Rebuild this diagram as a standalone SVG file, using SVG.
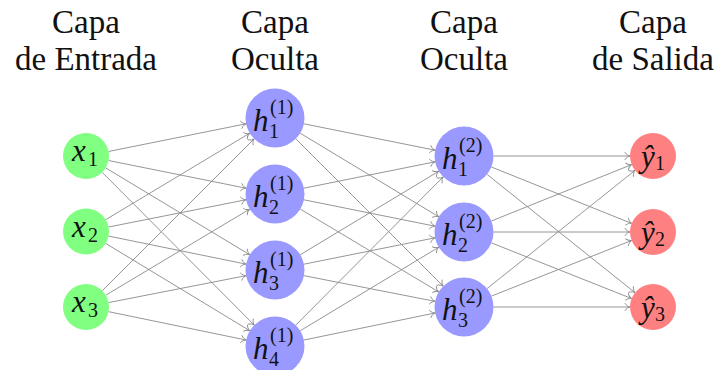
<svg xmlns="http://www.w3.org/2000/svg" width="718" height="370" viewBox="0 0 718 370">
<defs>
<marker id="arr" viewBox="-7 -6 12 12" markerWidth="12" markerHeight="12" refX="0" refY="0" orient="auto" markerUnits="userSpaceOnUse" overflow="visible">
<path d="M -5,-3.6 C -3.6,-1.2 -1.2,-0.3 0,0 C -1.2,0.3 -3.6,1.2 -5,3.6" fill="none" stroke="#8a8a8a" stroke-width="0.9" stroke-linecap="round"/>
</marker>
</defs>
<rect width="718" height="370" fill="#fff"/>
<text font-family="Liberation Serif" font-size="33" fill="#111" text-anchor="middle" x="86" y="33">Capa</text>
<text font-family="Liberation Serif" font-size="33" fill="#111" text-anchor="middle" x="86" y="70">de Entrada</text>
<text font-family="Liberation Serif" font-size="33" fill="#111" text-anchor="middle" x="275" y="33">Capa</text>
<text font-family="Liberation Serif" font-size="33" fill="#111" text-anchor="middle" x="275" y="70">Oculta</text>
<text font-family="Liberation Serif" font-size="33" fill="#111" text-anchor="middle" x="464" y="33">Capa</text>
<text font-family="Liberation Serif" font-size="33" fill="#111" text-anchor="middle" x="464" y="70">Oculta</text>
<text font-family="Liberation Serif" font-size="33" fill="#111" text-anchor="middle" x="653" y="33">Capa</text>
<text font-family="Liberation Serif" font-size="33" fill="#111" text-anchor="middle" x="653" y="70">de Salida</text>
<g id="connectors" stroke="#8a8a8a" stroke-width="0.9" marker-end="url(#arr)">
<line x1="108.55" y1="151.47" x2="246.08" y2="123.81"/>
<line x1="108.55" y1="160.53" x2="246.08" y2="188.19"/>
<line x1="105.69" y1="167.88" x2="249.74" y2="254.76"/>
<line x1="102.22" y1="172.31" x2="254.20" y2="325.08"/>
<line x1="105.72" y1="219.66" x2="249.71" y2="133.19"/>
<line x1="108.56" y1="227.02" x2="246.06" y2="199.74"/>
<line x1="108.54" y1="236.09" x2="246.09" y2="264.11"/>
<line x1="105.67" y1="243.42" x2="249.77" y2="330.71"/>
<line x1="102.26" y1="290.74" x2="254.14" y2="138.86"/>
<line x1="105.74" y1="295.20" x2="249.68" y2="209.14"/>
<line x1="108.57" y1="302.58" x2="246.05" y2="275.67"/>
<line x1="108.53" y1="311.65" x2="246.11" y2="340.04"/>
<line x1="303.92" y1="123.81" x2="435.08" y2="150.19"/>
<line x1="300.26" y1="133.24" x2="438.74" y2="216.76"/>
<line x1="295.86" y1="138.86" x2="443.14" y2="286.14"/>
<line x1="303.92" y1="188.19" x2="435.08" y2="161.81"/>
<line x1="303.92" y1="199.81" x2="435.08" y2="226.19"/>
<line x1="300.32" y1="209.14" x2="438.68" y2="291.86"/>
<line x1="300.26" y1="254.76" x2="438.74" y2="171.24"/>
<line x1="303.92" y1="264.19" x2="435.08" y2="237.81"/>
<line x1="303.95" y1="275.67" x2="435.05" y2="301.33"/>
<line x1="295.80" y1="325.08" x2="443.20" y2="176.92"/>
<line x1="300.26" y1="330.76" x2="438.74" y2="247.24"/>
<line x1="303.89" y1="340.04" x2="435.11" y2="312.96"/>
<line x1="493.5" y1="156" x2="630" y2="156"/>
<line x1="491.37" y1="167.01" x2="631.66" y2="223.42"/>
<line x1="487.05" y1="174.41" x2="635.03" y2="292.64"/>
<line x1="491.37" y1="220.99" x2="631.66" y2="164.58"/>
<line x1="493.5" y1="232" x2="630" y2="232"/>
<line x1="491.42" y1="242.88" x2="631.62" y2="298.52"/>
<line x1="487.05" y1="288.59" x2="635.03" y2="170.36"/>
<line x1="491.42" y1="296.12" x2="631.62" y2="240.48"/>
<line x1="493.5" y1="307" x2="630" y2="307"/>
</g>
<g id="nodes" font-family="Liberation Serif" fill="#111">
<g id="x1"><circle fill="#80ff80" cx="86" cy="156" r="23"/><text font-style="italic" font-size="31" x="72" y="161">x</text><text font-size="20" x="88" y="166">1</text></g>
<g id="x2"><circle fill="#80ff80" cx="86" cy="231.5" r="23"/><text font-style="italic" font-size="31" x="72" y="236.5">x</text><text font-size="20" x="88" y="241.5">2</text></g>
<g id="x3"><circle fill="#80ff80" cx="86" cy="307" r="23"/><text font-style="italic" font-size="31" x="72" y="312">x</text><text font-size="20" x="88" y="317">3</text></g>
<g id="h1_1"><circle fill="#9999ff" cx="275" cy="118" r="29.5"/><text font-style="italic" font-size="31" x="253" y="131">h</text><text font-size="20" x="269" y="138">1</text><text font-size="20" x="270" y="114">(1)</text></g>
<g id="h2_1"><circle fill="#9999ff" cx="275" cy="194" r="29.5"/><text font-style="italic" font-size="31" x="253" y="207">h</text><text font-size="20" x="269" y="214">2</text><text font-size="20" x="270" y="190">(1)</text></g>
<g id="h3_1"><circle fill="#9999ff" cx="275" cy="270" r="29.5"/><text font-style="italic" font-size="31" x="253" y="283">h</text><text font-size="20" x="269" y="290">3</text><text font-size="20" x="270" y="266">(1)</text></g>
<g id="h4_1"><circle fill="#9999ff" cx="275" cy="346" r="29.5"/><text font-style="italic" font-size="31" x="253" y="359">h</text><text font-size="20" x="269" y="366">4</text><text font-size="20" x="270" y="342">(1)</text></g>
<g id="h1_2"><circle fill="#9999ff" cx="464" cy="156" r="29.5"/><text font-style="italic" font-size="31" x="442" y="169">h</text><text font-size="20" x="458" y="176">1</text><text font-size="20" x="459" y="152">(2)</text></g>
<g id="h2_2"><circle fill="#9999ff" cx="464" cy="232" r="29.5"/><text font-style="italic" font-size="31" x="442" y="245">h</text><text font-size="20" x="458" y="252">2</text><text font-size="20" x="459" y="228">(2)</text></g>
<g id="h3_2"><circle fill="#9999ff" cx="464" cy="307" r="29.5"/><text font-style="italic" font-size="31" x="442" y="320">h</text><text font-size="20" x="458" y="327">3</text><text font-size="20" x="459" y="303">(2)</text></g>
<g id="y1"><circle fill="#ff8080" cx="653" cy="156" r="23"/><text font-style="italic" font-size="31" x="641" y="167">ŷ</text><text font-size="20" x="655" y="170">1</text></g>
<g id="y2"><circle fill="#ff8080" cx="653" cy="232" r="23"/><text font-style="italic" font-size="31" x="641" y="243">ŷ</text><text font-size="20" x="655" y="246">2</text></g>
<g id="y3"><circle fill="#ff8080" cx="653" cy="307" r="23"/><text font-style="italic" font-size="31" x="641" y="318">ŷ</text><text font-size="20" x="655" y="321">3</text></g>
</g>
</svg>
